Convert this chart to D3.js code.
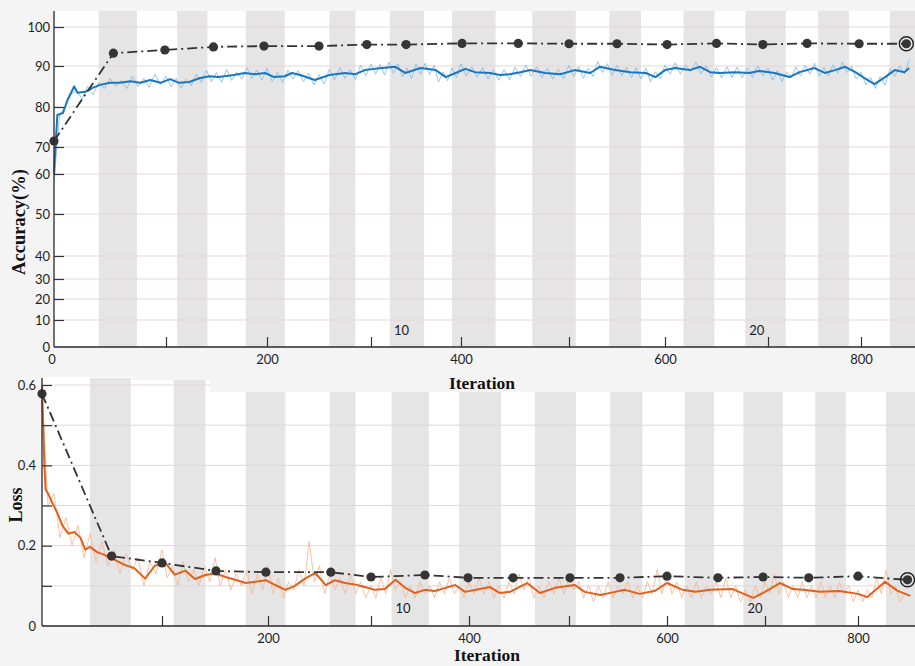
<!DOCTYPE html>
<html>
<head>
<meta charset="utf-8">
<script src="https://cdn.jsdelivr.net/npm/d3@7"></script>
<style>
  body { margin: 0; background: #f4f4f4; }
  svg { display: block; }
</style>
</head>
<body>
<div id="container"></div>
<script>
// ---- data ----
var epochEdges = [0, 40, 74, 111, 141, 179, 217, 260, 285, 321, 359, 390, 432, 466, 507, 542, 575, 618, 648, 678, 719, 754, 787, 830, 861];
var epochLabels = [10, 20];

// validation accuracy (dash-dot with dots)
var valAccIter = [0, 53, 99, 147, 197, 250, 296, 339, 401, 453, 500, 550, 602, 650, 695, 742, 798, 847];
var valAcc = [71.5, 93.3, 94.1, 94.9, 95.1, 95.1, 95.5, 95.5, 95.8, 95.8, 95.7, 95.7, 95.5, 95.8, 95.5, 95.8, 95.7, 95.7];

// training accuracy, smoothed
var accSmoothIter = [0, 1, 3, 8, 12, 18, 21, 28, 34, 41, 50, 59, 68, 77, 86, 95, 104, 113, 123, 133, 143, 152, 167, 178, 188, 198, 207, 217, 224, 232, 241, 246, 260, 275, 285, 294, 304, 327, 338, 355, 372, 383, 394, 404, 413, 427, 436, 445, 455, 464, 478, 492, 506, 522, 532, 548, 564, 580, 590, 600, 610, 624, 634, 644, 653, 668, 682, 691, 707, 723, 734, 750, 761, 772, 783, 794, 804, 814, 825, 835, 845, 850];
var accSmooth = [60, 68, 78, 78.5, 81.7, 85, 83.5, 83.7, 84.6, 85.4, 85.9, 85.9, 86.3, 85.9, 86.6, 85.9, 86.8, 85.9, 86.1, 87, 87.5, 87.3, 87.8, 88.3, 88, 88.3, 87.3, 87.5, 88.3, 87.8, 87, 86.6, 87.8, 88.3, 88, 89, 89.3, 89.8, 88.3, 89.5, 89, 87.3, 88.3, 89.3, 88.5, 88.3, 87.8, 88, 88.5, 89, 88.3, 88, 89, 88.3, 89.8, 89, 88.5, 88.3, 87.3, 89, 89.5, 89, 89.8, 88.5, 88.3, 88.5, 88.3, 88.8, 88.3, 87.3, 88.5, 89.5, 88.3, 89, 89.8, 88.5, 87, 85.6, 87.3, 89, 88.5, 89.5];

// training accuracy, raw (every 5 iterations)
var rawStep = 5;
var accRaw = [58, 78, 80, 83, 84, 82, 85, 83, 86, 84.5, 87, 85, 86.5, 84.5, 87.5, 85, 87, 84.8, 88, 85.5,
  87.5, 85, 87, 84.6, 86.8, 85.2, 88, 86, 89, 86.2, 88.4, 86, 89.2, 86.5, 88.5, 86.8, 89.6, 87, 89, 86.5,
  89.5, 86.2, 88.5, 86, 89, 86.8, 88.9, 86.2, 88.3, 85.4, 87.9, 85.6, 89.2, 86.6, 89.6, 87, 89.1, 86.7, 90.2, 87.6,
  90.5, 88, 90.4, 87.8, 91, 88.2, 90.5, 87.4, 89.5, 86.9, 90.6, 88, 90.7, 87.9, 90.2, 86.1, 88.6, 86.4, 89.5, 87.1,
  90.6, 87.5, 89.8, 87.2, 89.6, 86.8, 89.2, 86.5, 89.1, 86.6, 89.7, 87.4, 90.3, 87.5, 89.8, 87.2, 89.4, 86.8, 89.3, 86.9,
  90.2, 87.5, 89.8, 87, 89.5, 87.4, 91.2, 88.4, 90.6, 87.7, 90.2, 87.6, 89.7, 87.1, 89.6, 86.8, 89.5, 86.2, 88.6, 86.9,
  90.3, 88, 90.8, 88, 90.3, 88.6, 91, 88.1, 90.1, 87.3, 89.6, 87.1, 89.8, 87.2, 89.7, 87.1, 89.5, 87.2, 90.1, 87.6,
  89.5, 86.5, 88.9, 86.2, 88.6, 87.1, 89.8, 87.6, 90.2, 88, 90.7, 87.5, 89.7, 87.6, 90.3, 88.2, 91, 88.4, 89.9, 86.8,
  88.5, 85.4, 87.2, 84.5, 87.5, 85.3, 89.4, 87.5, 90.1, 88.1, 91.5];

// validation loss
var valLossIter = [0, 58, 100, 151, 198, 261, 300, 355, 399, 444, 501, 552, 600, 652, 698, 747, 800, 853];
var valLoss = [0.578, 0.174, 0.157, 0.137, 0.134, 0.134, 0.122, 0.127, 0.12, 0.12, 0.12, 0.12, 0.124, 0.12, 0.122, 0.12, 0.124, 0.115];

// training loss, smoothed
var lossSmoothIter = [0, 1, 2, 3, 5, 8, 13, 17, 22, 27, 32, 36, 40, 46, 52, 61, 69, 77, 86, 94, 103, 112, 122, 131, 141, 150, 160, 169, 179, 188, 198, 207, 217, 226, 236, 246, 256, 265, 275, 285, 294, 304, 314, 325, 335, 345, 355, 365, 376, 386, 396, 411, 421, 431, 441, 458, 471, 486, 506, 516, 532, 547, 557, 572, 588, 600, 616, 629, 644, 667, 688, 700, 716, 730, 741, 759, 780, 800, 810, 829, 842, 856];
var lossSmooth = [0.6, 0.5, 0.4, 0.34, 0.33, 0.31, 0.28, 0.25, 0.23, 0.234, 0.22, 0.19, 0.197, 0.184, 0.177, 0.164, 0.152, 0.144, 0.118, 0.15, 0.158, 0.128, 0.138, 0.117, 0.127, 0.131, 0.122, 0.115, 0.107, 0.11, 0.114, 0.102, 0.09, 0.1, 0.118, 0.132, 0.102, 0.114, 0.107, 0.103, 0.097, 0.09, 0.092, 0.115, 0.095, 0.082, 0.09, 0.087, 0.095, 0.102, 0.085, 0.092, 0.097, 0.082, 0.085, 0.107, 0.082, 0.095, 0.102, 0.085, 0.077, 0.085, 0.09, 0.08, 0.088, 0.107, 0.09, 0.085, 0.09, 0.092, 0.07, 0.085, 0.107, 0.092, 0.09, 0.085, 0.087, 0.08, 0.072, 0.11, 0.088, 0.075];

// training loss, raw (every 5 iterations)
var lossRaw = [0.58, 0.3, 0.33, 0.22, 0.27, 0.2, 0.25, 0.17, 0.23, 0.16, 0.21, 0.15, 0.19, 0.13, 0.18, 0.14, 0.17, 0.1, 0.16, 0.13,
  0.19, 0.12, 0.15, 0.1, 0.16, 0.11, 0.14, 0.1, 0.15, 0.11, 0.17, 0.1, 0.14, 0.09, 0.13, 0.1, 0.14, 0.08, 0.13, 0.09,
  0.15, 0.08, 0.12, 0.07, 0.11, 0.09, 0.14, 0.1, 0.21, 0.11, 0.15, 0.08, 0.13, 0.09, 0.12, 0.08, 0.13, 0.08, 0.11, 0.07,
  0.1, 0.07, 0.12, 0.08, 0.14, 0.09, 0.11, 0.07, 0.1, 0.07, 0.11, 0.08, 0.1, 0.07, 0.11, 0.08, 0.12, 0.08, 0.1, 0.07,
  0.11, 0.08, 0.12, 0.08, 0.11, 0.07, 0.1, 0.07, 0.11, 0.08, 0.13, 0.09, 0.12, 0.07, 0.1, 0.07, 0.11, 0.08, 0.12, 0.08,
  0.12, 0.09, 0.11, 0.07, 0.1, 0.06, 0.1, 0.07, 0.11, 0.07, 0.1, 0.08, 0.11, 0.07, 0.1, 0.07, 0.11, 0.08, 0.14, 0.08,
  0.13, 0.08, 0.11, 0.07, 0.1, 0.07, 0.11, 0.07, 0.1, 0.08, 0.11, 0.07, 0.12, 0.07, 0.1, 0.06, 0.09, 0.06, 0.1, 0.07,
  0.11, 0.08, 0.13, 0.08, 0.11, 0.07, 0.1, 0.07, 0.11, 0.07, 0.1, 0.07, 0.11, 0.07, 0.1, 0.07, 0.11, 0.08, 0.1, 0.06,
  0.09, 0.06, 0.09, 0.07, 0.12, 0.08, 0.14, 0.08, 0.1, 0.06, 0.08];

var accTicks = [0, 10, 20, 30, 40, 50, 60, 70, 80, 90, 100];
var lossTicks = [0, 0.1, 0.2, 0.3, 0.4, 0.5, 0.6];
var iterTicks = [100, 200, 300, 400, 500, 600, 700, 800];

// ---- layout ----
var width = 915, height = 666;
var tickFont = "Lato, 'Open Sans', sans-serif";
var titleFont = "'Liberation Serif', 'DejaVu Serif', serif";

var svg = d3.select('div#container')
  .append('svg')
  .attr('width', width)
  .attr('height', height);

svg.append('rect').attr('width', width).attr('height', height).attr('fill', '#f4f4f4');

// the picture is slightly warped, so the scales are piecewise
var panels = [
  {
    id: 'acc', left: 54, top: 11, bottom: 347, right: 915,
    areas: [[54, 11, 861, 336]],
    x: d3.scaleLinear().domain([0, 100, 200, 300, 400, 500, 600, 700, 800, 856])
      .range([54, 166, 267, 371, 461, 569, 665, 768, 861, 915]),
    y: d3.scaleLinear().domain(accTicks).range([347, 320, 299, 279, 256, 214, 174, 147, 107, 66, 27]),
    yTicks: accTicks, yFmt: function(d){ return d; },
    xFmt: function(d){ return d % 200 == 0 ? d : ''; }, zeroLabel: true,
    rawVals: accRaw, smIter: accSmoothIter, smVals: accSmooth, vIter: valAccIter, vVals: valAcc,
    rawColor: '#86bde8', smColor: '#1877c0',
    yTitle: 'Accuracy(%)', yTitleSize: 18.5, yTitleX: 25, yTitleY: 222, xTitleX: 482, xTitleY: 389, epochY: 335
  },
  {
    id: 'loss', left: 42, top: 378, bottom: 626, right: 915,
    // top edge of the white area is stepped in the picture
    areas: [[42, 377, 90, 249], [90, 380, 120, 246], [210, 392, 705, 234]],
    x: d3.scaleLinear().domain([0, 100, 200, 300, 400, 500, 600, 700, 800, 861])
      .range([42, 162, 268, 371, 469, 569, 667, 765, 858, 915]),
    y: d3.scaleLinear().domain([0, 0.6]).range([626, 385]),
    yTicks: lossTicks, yFmt: function(d){ return Math.round(d * 10) % 2 == 0 ? (d == 0 ? '0' : d3.format('.1f')(d)) : ''; },
    xFmt: function(d){ return d % 200 == 0 ? d : ''; }, zeroLabel: false,
    rawVals: lossRaw, smIter: lossSmoothIter, smVals: lossSmooth, vIter: valLossIter, vVals: valLoss,
    rawColor: '#f3b896', smColor: '#e2601c',
    yTitle: 'Loss', yTitleSize: 18, yTitleX: 22, yTitleY: 505, xTitleX: 487, xTitleY: 661, epochY: 613
  }
];

var titles = svg.append('g').attr('id', 'titles');

panels.forEach(function(p){
  var G = svg.insert('g', '#titles').attr('id', p.id);

  var clip = G.append('clipPath').attr('id', 'clip-' + p.id);
  clip.selectAll('rect').data(p.areas).enter().append('rect')
    .attr('x', function(d){ return d[0]; }).attr('y', function(d){ return d[1]; })
    .attr('width', function(d){ return d[2]; }).attr('height', function(d){ return p.bottom - d[1]; });

  G.append('g').selectAll('rect').data(p.areas).enter().append('rect')
    .attr('x', function(d){ return d[0]; }).attr('y', function(d){ return d[1]; })
    .attr('width', function(d){ return d[2]; }).attr('height', function(d){ return p.bottom - d[1]; })
    .attr('fill', '#ffffff');

  // epoch shading: every second epoch is grey
  var bands = [];
  for(var i = 1; i < epochEdges.length - 1; i += 2){
    bands.push([epochEdges[i], epochEdges[i + 1]]);
  }
  G.append('g').attr('clip-path', 'url(#clip-' + p.id + ')')
    .selectAll('rect').data(bands).enter().append('rect')
    .attr('x', function(d){ return p.x(d[0]); })
    .attr('y', p.top)
    .attr('width', function(d){ return p.x(d[1]) - p.x(d[0]); })
    .attr('height', p.bottom - p.top)
    .attr('fill', '#e5e5e5');

  // grid
  G.append('g').attr('clip-path', 'url(#clip-' + p.id + ')')
    .selectAll('line').data(p.yTicks.filter(function(d){ return d > 0; })).enter().append('line')
    .attr('x1', p.left).attr('x2', p.right)
    .attr('y1', function(d){ return p.y(d); }).attr('y2', function(d){ return p.y(d); })
    .attr('stroke', '#e3d7d7').attr('stroke-width', 1);

  // epoch numbers
  G.append('g').selectAll('text').data(epochLabels).enter().append('text')
    .attr('x', function(d){ return p.x(epochEdges[d - 1]) + 4; })
    .attr('y', p.epochY)
    .attr('font-family', tickFont).attr('font-size', 13).attr('fill', '#222')
    .text(function(d){ return d; });

  var plot = G.append('g');

  var rawLine = d3.line()
    .x(function(d, i){ return p.x(i * rawStep); })
    .y(function(d){ return p.y(d); });
  plot.append('path').datum(p.rawVals)
    .attr('d', rawLine).attr('fill', 'none')
    .attr('stroke', p.rawColor).attr('stroke-width', 1).attr('opacity', 0.85);

  var smLine = d3.line()
    .x(function(d, i){ return p.x(p.smIter[i]); })
    .y(function(d){ return p.y(d); });
  plot.append('path').datum(p.smVals)
    .attr('d', smLine).attr('fill', 'none')
    .attr('stroke', p.smColor).attr('stroke-width', 2).attr('stroke-linejoin', 'round');

  var vLine = d3.line()
    .x(function(d, i){ return p.x(p.vIter[i]); })
    .y(function(d){ return p.y(d); });
  plot.append('path').datum(p.vVals)
    .attr('d', vLine).attr('fill', 'none')
    .attr('stroke', '#333').attr('stroke-width', 1.8)
    .attr('stroke-dasharray', '10,4,2,4');

  plot.selectAll('circle.v').data(p.vVals).enter().append('circle')
    .attr('class', 'v')
    .attr('cx', function(d, i){ return p.x(p.vIter[i]); })
    .attr('cy', function(d){ return p.y(d); })
    .attr('r', 4.6)
    .attr('fill', '#353535');

  // final validation point gets a ring
  var last = p.vVals.length - 1;
  plot.append('circle')
    .attr('cx', p.x(p.vIter[last])).attr('cy', p.y(p.vVals[last]))
    .attr('r', 7).attr('fill', 'none').attr('stroke', '#222').attr('stroke-width', 1.4);

  // axes
  var xAxis = d3.axisBottom(p.x).tickValues(iterTicks).tickSizeInner(-10).tickSizeOuter(0)
    .tickPadding(8).tickFormat(p.xFmt);
  var gx = G.append('g').attr('transform', 'translate(0,' + p.bottom + ')').call(xAxis);
  gx.select('.domain').attr('d', 'M' + p.left + ',0H' + p.right);

  var yAxis = d3.axisLeft(p.y).tickValues(p.yTicks).tickSizeInner(-10).tickSizeOuter(0)
    .tickPadding(p.id == 'acc' ? 4 : 6).tickFormat(p.yFmt);
  var gy = G.append('g').attr('transform', 'translate(' + p.left + ',0)').call(yAxis);
  gy.select('.domain').attr('d', 'M0,' + p.top + 'V' + p.bottom);

  [gx, gy].forEach(function(a){
    a.selectAll('.domain').attr('stroke', '#2a2a2a').attr('stroke-width', 1.3);
    a.selectAll('.tick line').attr('stroke', '#333').attr('stroke-width', 1.2);
    a.selectAll('.tick text').attr('font-family', tickFont).attr('font-size', 13).attr('fill', '#1e1e1e');
  });
  gy.selectAll('.tick').filter(function(d){ return d == 0; }).select('line').remove();

  if(p.zeroLabel){
    G.append('text').attr('x', p.x(0) - 2).attr('y', p.bottom + 17)
      .attr('text-anchor', 'middle')
      .attr('font-family', tickFont).attr('font-size', 13).attr('fill', '#1e1e1e')
      .text('0');
  }

  titles.append('text')
    .attr('transform', 'translate(' + p.yTitleX + ',' + p.yTitleY + ') rotate(-90)')
    .attr('text-anchor', 'middle')
    .attr('font-family', titleFont).attr('font-weight', 'bold').attr('font-size', p.yTitleSize).attr('fill', '#111')
    .text(p.yTitle);

  titles.append('text')
    .attr('x', p.xTitleX).attr('y', p.xTitleY)
    .attr('text-anchor', 'middle')
    .attr('font-family', titleFont).attr('font-weight', 'bold').attr('font-size', 17.5).attr('fill', '#111')
    .text('Iteration');
});
</script>
</body>
</html>
